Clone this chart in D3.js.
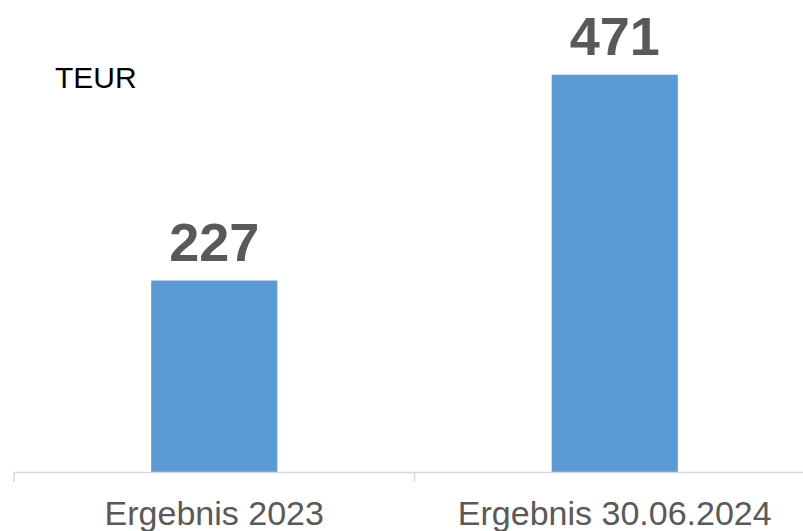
<!DOCTYPE html>
<html>
<head>
<meta charset="utf-8">
<script src="https://cdn.jsdelivr.net/npm/d3@7"></script>
<style>
  html, body { margin: 0; padding: 0; background: #fff; }
  svg { display: block; font-family: "Liberation Sans", Arial, sans-serif; }
</style>
</head>
<body>
<svg id="chart" width="803" height="531"></svg>
<script>
// data
const categories = ["Ergebnis 2023", "Ergebnis 30.06.2024"];
const values = [227, 471];
const unitLabel = "TEUR";

const svg = d3.select("#chart");
const baseY = 472;

const x = d3.scaleBand()
    .domain(categories)
    .range([14, 815])
    .padding(0);

const y = d3.scaleLinear()
    .domain([0, 500])
    .range([baseY, baseY - 500 * 0.8435]);

const barW = x.bandwidth() * 0.315;

// bars
svg.selectAll("rect.bar")
    .data(categories)
    .join("rect")
    .attr("class", "bar")
    .attr("x", (d) => x(d) + (x.bandwidth() - barW) / 2)
    .attr("y", (d, i) => y(values[i]))
    .attr("width", barW)
    .attr("height", (d, i) => y(0) - y(values[i]))
    .attr("fill", "#5B9BD5");

// axis (category boundaries as ticks)
const axis = d3.axisBottom(x).tickSize(0).tickFormat("");
const axisG = svg.append("g")
    .attr("transform", `translate(0,${baseY})`)
    .call(axis);
axisG.select(".domain").attr("stroke", "#d9d9d9").attr("stroke-width", 1.5);

const bounds = categories.map((d) => x(d)).concat([x.range()[1]]);
axisG.selectAll("line.sep")
    .data(bounds)
    .join("line")
    .attr("class", "sep")
    .attr("x1", (d) => d).attr("x2", (d) => d)
    .attr("y1", 0).attr("y2", 10)
    .attr("stroke", "#d9d9d9")
    .attr("stroke-width", 1.5);

// category labels
svg.selectAll("text.cat")
    .data(categories)
    .join("text")
    .attr("class", "cat")
    .attr("x", (d) => x(d) + x.bandwidth() / 2)
    .attr("y", 525)
    .attr("text-anchor", "middle")
    .attr("font-size", 34)
    .attr("fill", "#595959")
    .text((d) => d);

// value labels
svg.selectAll("text.val")
    .data(categories)
    .join("text")
    .attr("class", "val")
    .attr("x", (d) => x(d) + x.bandwidth() / 2)
    .attr("y", (d, i) => y(values[i]) - 20)
    .attr("text-anchor", "middle")
    .attr("font-size", 54)
    .attr("font-weight", "bold")
    .attr("fill", "#595959")
    .text((d, i) => values[i]);

// unit
svg.append("text")
    .attr("x", 55)
    .attr("y", 88)
    .attr("font-size", 30)
    .attr("fill", "#000")
    .text(unitLabel);
</script>
</body>
</html>
